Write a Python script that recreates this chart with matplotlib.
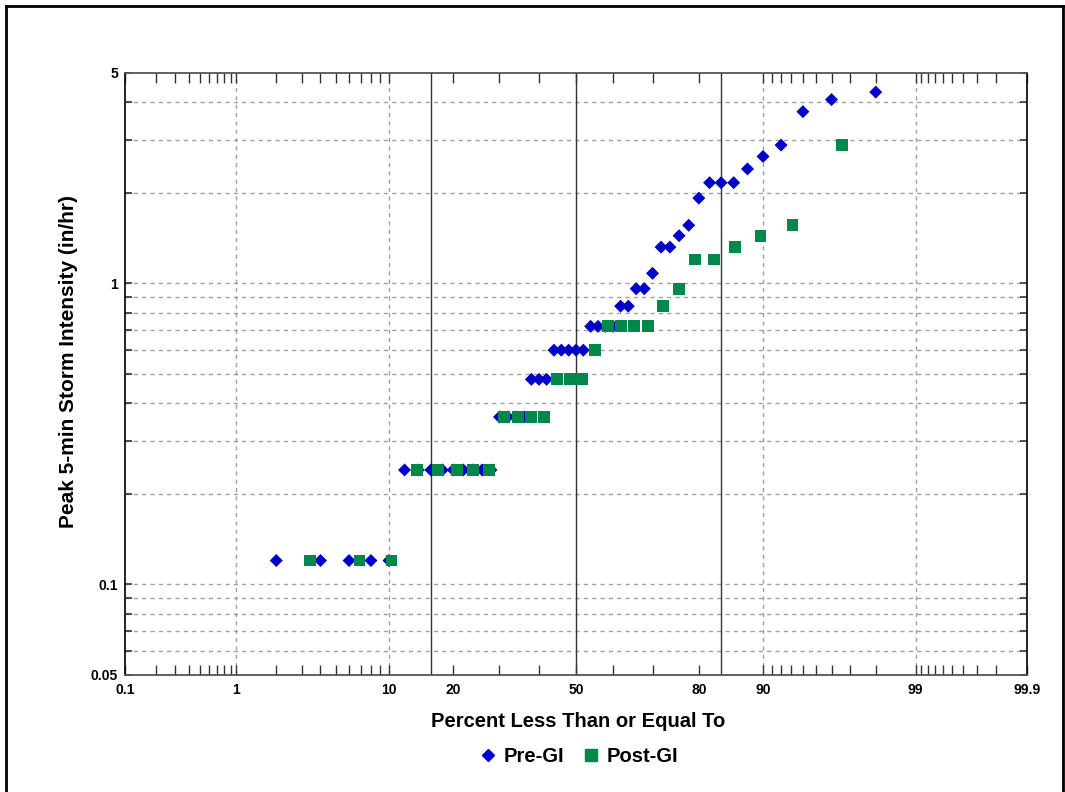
import math
import numpy as np
import matplotlib
matplotlib.use("Agg")
import matplotlib.pyplot as plt
from matplotlib import font_manager
from matplotlib.lines import Line2D

# ---------------- data ----------------
pre_pct = [2, 4, 6, 8, 10, 12, 14, 16, 18, 20, 22, 24, 26, 28, 30, 32, 34, 36, 38, 40,
           42, 44, 46, 48, 50, 52, 54, 56, 58, 60, 62, 64, 66, 68, 70, 72, 74, 76, 78, 80,
           82, 84, 86, 88, 90, 92, 94, 96, 98]
pre_val = [0.12, 0.12, 0.12, 0.12, 0.12,
           0.24, 0.24, 0.24, 0.24, 0.24, 0.24, 0.24, 0.24, 0.24,
           0.36, 0.36, 0.36, 0.36,
           0.48, 0.48, 0.48,
           0.60, 0.60, 0.60, 0.60, 0.60,
           0.72, 0.72, 0.72, 0.72,
           0.84, 0.84, 0.96, 0.96, 1.08, 1.32, 1.32, 1.44, 1.56, 1.92,
           2.16, 2.16, 2.16, 2.40, 2.64, 2.88, 3.72, 4.08, 4.32]

post_pct = [3.4, 6.9, 10.3, 13.8, 17.2, 20.7, 24.1, 27.6, 31.0, 34.5, 37.9, 41.4, 44.8,
            48.3, 51.7, 55.2, 58.6, 62.1, 65.5, 69.0, 72.4, 75.9, 79.3, 82.8, 86.2, 89.7,
            93.1, 96.6]
post_val = [0.12, 0.12, 0.12,
            0.24, 0.24, 0.24, 0.24, 0.24,
            0.36, 0.36, 0.36, 0.36,
            0.48, 0.48, 0.48,
            0.60,
            0.72, 0.72, 0.72, 0.72,
            0.84, 0.96, 1.20, 1.20, 1.32, 1.44, 1.56, 2.88]

x_major = [0.1, 1, 10, 20, 50, 80, 90, 99, 99.9]
x_major_labels = ["0.1", "1", "10", "20", "50", "80", "90", "99", "99.9"]
x_minor = [0.2, 0.3, 0.4, 0.5, 0.6, 0.7, 0.8, 0.9, 2, 3, 4, 5, 6, 7, 8, 9,
           30, 40, 60, 70, 91, 92, 93, 94, 95, 96, 97, 98,
           99.1, 99.2, 99.3, 99.4, 99.5, 99.6, 99.7, 99.8]
x_grid = [1, 10, 90, 99]
x_ref = [16, 50, 84]

y_major = [0.05, 0.1, 1, 5]
y_major_labels = ["0.05", "0.1", "1", "5"]
y_minor = [0.06, 0.07, 0.08, 0.09, 0.2, 0.3, 0.4, 0.5, 0.6, 0.7, 0.8, 0.9, 2, 3, 4]

# ---------------- normal probability scale ----------------
_a = [-3.969683028665376e+01, 2.209460984245205e+02, -2.759285104469687e+02,
      1.383577518672690e+02, -3.066479806614716e+01, 2.506628277459239e+00]
_b = [-5.447609879822406e+01, 1.615858368580409e+02, -1.556989798598866e+02,
      6.680131188771972e+01, -1.328068155288572e+01]
_c = [-7.784894002430293e-03, -3.223964580411365e-01, -2.400758277161838e+00,
      -2.549732539343734e+00, 4.374664141464968e+00, 2.938163982698783e+00]
_d = [7.784695709041462e-03, 3.224671290700398e-01, 2.445134137142996e+00,
      3.754408661907416e+00]


def _ppf(p):
    p = np.clip(np.asarray(p, dtype=float), 1e-9, 1 - 1e-9)
    plow = 0.02425
    with np.errstate(all="ignore"):
        q = p - 0.5
        r = q * q
        cen = (((((_a[0]*r+_a[1])*r+_a[2])*r+_a[3])*r+_a[4])*r+_a[5])*q / \
              (((((_b[0]*r+_b[1])*r+_b[2])*r+_b[3])*r+_b[4])*r+1)
        ql = np.sqrt(-2*np.log(p))
        low = (((((_c[0]*ql+_c[1])*ql+_c[2])*ql+_c[3])*ql+_c[4])*ql+_c[5]) / \
              ((((_d[0]*ql+_d[1])*ql+_d[2])*ql+_d[3])*ql+1)
        qh = np.sqrt(-2*np.log(1-p))
        high = -(((((_c[0]*qh+_c[1])*qh+_c[2])*qh+_c[3])*qh+_c[4])*qh+_c[5]) / \
               ((((_d[0]*qh+_d[1])*qh+_d[2])*qh+_d[3])*qh+1)
    return np.where(p < plow, low, np.where(p > 1 - plow, high, cen))


_erf = np.vectorize(math.erf)


def fwd(x):
    return _ppf(np.asarray(x, dtype=float) / 100.0)


def inv(z):
    z = np.asarray(z, dtype=float)
    return 100.0 * 0.5 * (1 + _erf(z / math.sqrt(2)))


# ---------------- fonts ----------------
avail = {f.name for f in font_manager.fontManager.ttflist}
fam = "Liberation Sans" if "Liberation Sans" in avail else "DejaVu Sans"
plt.rcParams["font.family"] = [fam, "DejaVu Sans"]
plt.rcParams["font.weight"] = "bold"

# ---------------- figure ----------------
fig = plt.figure(figsize=(10.65, 7.92), dpi=100)
ax = fig.add_axes([125/1065, 1-675/792, (1027-125)/1065, (675-73)/792])

ax.set_xscale("function", functions=(fwd, inv))
ax.set_yscale("log")
ax.set_xlim(0.1, 99.9)
ax.set_ylim(0.05, 5)

grid_kw = dict(color="#a0a0a0", linewidth=1.0, linestyle=(0, (3, 3)), zorder=1)
for g in x_grid:
    ax.axvline(g, **grid_kw)
for yv in y_minor + [0.1, 1]:
    ax.axhline(yv, **grid_kw)
for r in x_ref:
    ax.axvline(r, color="#333333", linewidth=1.0, zorder=2)

ax.scatter(pre_pct, pre_val, marker="D", s=44, color="#0000c8", edgecolors="none",
           zorder=3, label="Pre-GI")
ax.scatter(post_pct, post_val, marker="s", s=72, color="#00874a", edgecolors="none",
           zorder=4, label="Post-GI")

ax.set_xticks(x_major)
ax.set_xticklabels(x_major_labels)
ax.set_xticks(x_minor, minor=True)
ax.set_yticks(y_major)
ax.set_yticklabels(y_major_labels)
ax.set_yticks(y_minor, minor=True)
ax.yaxis.set_minor_formatter(matplotlib.ticker.NullFormatter())
ax.xaxis.set_minor_formatter(matplotlib.ticker.NullFormatter())

ax.tick_params(axis="x", which="both", direction="in", top=True, bottom=True,
               length=7, width=1, color="#333333", labelsize=10, pad=6)
ax.tick_params(axis="y", which="both", direction="in", left=True, right=True,
               length=5, width=1.2, color="#333333", labelsize=10, pad=5)
for lab in ax.get_xticklabels() + ax.get_yticklabels():
    lab.set_fontweight("bold")

for s in ax.spines.values():
    s.set_color("#555555")
    s.set_linewidth(1.3)
ax.spines["left"].set_color("#111111")
ax.spines["right"].set_color("#111111")

ax.set_xlabel("Percent Less Than or Equal To", fontsize=14.5, fontweight="bold")
ax.xaxis.set_label_coords(0.502, -0.061)
ax.set_ylabel("Peak 5-min Storm Intensity (in/hr)", fontsize=15, fontweight="bold")
ax.yaxis.set_label_coords(-0.052, 0.52)

handles = [Line2D([], [], marker="D", linestyle="none", color="#0000c8", markersize=6),
           Line2D([], [], marker="s", linestyle="none", color="#00874a", markersize=8)]
fig.legend(handles, ["Pre-GI", "Post-GI"], loc="center", bbox_to_anchor=(578/1065, 1-757/792),
           ncol=2, frameon=False, handletextpad=0.3, columnspacing=0.8, handlelength=1.0,
           prop={"weight": "bold", "size": 14.5})

# figure border
fig.add_artist(Line2D([0.006, 0.006], [0.0, 0.993], transform=fig.transFigure,
                      color="black", linewidth=2))
fig.add_artist(Line2D([0.006, 0.998], [0.993, 0.993], transform=fig.transFigure,
                      color="black", linewidth=2))
fig.add_artist(Line2D([0.998, 0.998], [0.0, 0.993], transform=fig.transFigure,
                      color="black", linewidth=2))

fig.savefig("out.png", dpi=100)
